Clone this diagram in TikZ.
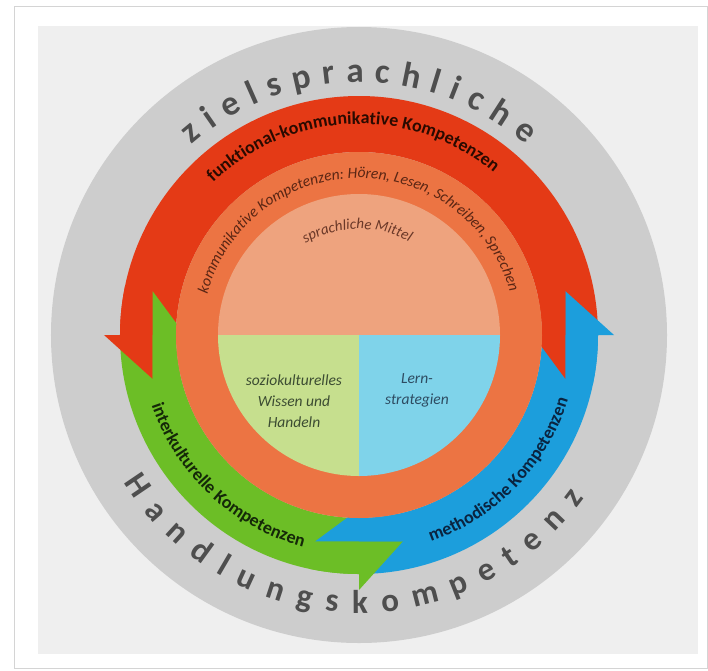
\documentclass[tikz,border=0pt]{standalone}
\usepackage{fontspec}
\setmainfont{Carlito}
\usetikzlibrary{decorations.text}
\definecolor{panelc}{HTML}{EFEFEF}
\definecolor{framec}{HTML}{D4D4D4}
\definecolor{ringc}{HTML}{CDCDCD}
\definecolor{redc}{HTML}{E43A16}
\definecolor{orangec}{HTML}{EC7443}
\definecolor{salmonc}{HTML}{EEA37E}
\definecolor{lgreenc}{HTML}{C6DF8E}
\definecolor{lbluec}{HTML}{7FD3EA}
\definecolor{greenc}{HTML}{6CBE26}
\definecolor{bluec}{HTML}{1C9EDC}
\definecolor{outertxt}{HTML}{4E4E4E}
\definecolor{redtxt}{HTML}{2A0A00}
\definecolor{greentxt}{HTML}{142808}
\definecolor{bluetxt}{HTML}{0A2440}
\definecolor{kommtxt}{HTML}{5A2614}
\definecolor{mitteltxt}{HTML}{6A3828}
\definecolor{soztxt}{HTML}{3C4C32}
\definecolor{lerntxt}{HTML}{2E4C62}
% body of a ring arrow: colour, start angle, end angle
\newcommand\ringbody[3]{\fill[#1] (#2:183) arc[start angle=#2, end angle=#3, radius=183] -- (#3:239) arc[start angle=#3, end angle=#2, radius=239] -- cycle;}
% head owning the outer half: colour, junction angle, own tip angle, other tip angle
\newcommand\headout[4]{\fill[#1] (#4:211) -- (#4:239) arc[start angle=#4, end angle=#2, radius=239] -- (#2:255) -- (#3:211) -- cycle;}
% head owning the inner half: colour, junction angle, own tip angle, other tip angle
\newcommand\headin[4]{\fill[#1] (#4:211) -- (#4:183) arc[start angle=#4, end angle=#2, radius=183] -- (#2:174) -- (#3:211) -- cycle;}
\begin{document}
\begin{tikzpicture}[x=1pt,y=1pt,
  arrowtext/.style={decorate, decoration={text along path, text align=center, text={#1}}},
  fittext/.style={decorate, decoration={text along path, text align=fit to path, text={#1}}},
  innertext/.style={font=\itshape\fontsize{15.5}{21}\selectfont, align=center, inner sep=0pt}]
\useasboundingbox (-359,-335) rectangle (349,335);
\fill[white] (-359,-335) rectangle (349,335);
\draw[framec, line width=1] (-344,-333) rectangle (348,328);
\fill[panelc] (-321,309) rectangle (339,-319);
\fill[ringc] (0,0) circle (308);
% arrow bodies
\ringbody{redc}{0}{180}
\ringbody{greenc}{180}{270}
\ringbody{bluec}{270}{360}
% arrow heads (interlocking at each junction)
\headout{redc}{180}{192}{168}
\headin{greenc}{180}{168}{192}
\headout{greenc}{270}{282}{258}
\headin{bluec}{270}{258}{282}
\headout{bluec}{0}{12}{-12}
\headin{redc}{0}{-12}{12}
% inner rings
\fill[orangec] (0,0) circle (183);
\fill[salmonc] (0,0) -- (0:141) arc[start angle=0, end angle=180, radius=141] -- cycle;
\fill[lgreenc] (0,0) -- (180:141) arc[start angle=180, end angle=270, radius=141] -- cycle;
\fill[lbluec] (0,0) -- (270:141) arc[start angle=270, end angle=360, radius=141] -- cycle;
% outer texts
\path[fittext={|\color{outertxt}\bfseries\fontsize{35}{35}\selectfont|zielsprachliche}] (131.3:253) arc[start angle=131.3, end angle=48.7, radius=253];
\path[fittext={|\color{outertxt}\bfseries\fontsize{33}{33}\selectfont|Handlungskompetenz}] (212:278) arc[start angle=212, end angle=324, radius=278];
% arrow texts
\path[arrowtext={|\color{redtxt}\bfseries\fontsize{18}{18}\selectfont|funktional-kommunikative Kompetenzen}] (150:211) arc[start angle=150, end angle=34, radius=211];
\path[arrowtext={|\color{greentxt}\bfseries\fontsize{18}{18}\selectfont|interkulturelle Kompetenzen}] (190:219) arc[start angle=190, end angle=264, radius=219];
\path[arrowtext={|\color{bluetxt}\bfseries\fontsize{18}{18}\selectfont|methodische Kompetenzen}] (280:219) arc[start angle=280, end angle=352, radius=219];
\path[arrowtext={|\color{kommtxt}\itshape\fontsize{15.5}{15.5}\selectfont|kommunikative Kompetenzen: Hören, Lesen, Schreiben, Sprechen}] (178:157) arc[start angle=178, end angle=2.8, radius=157];
\path[arrowtext={|\color{mitteltxt}\itshape\fontsize{15}{15}\selectfont|sprachliche Mittel}] (150:106) arc[start angle=150, end angle=32, radius=106];
% quadrant labels
\node[innertext, text=soztxt] (soz) at (-65,-66) {soziokulturelles\\Wissen und\\Handeln};
\node[innertext, text=lerntxt] (lern) at (58,-55.5) {Lern-\\strategien};
\end{tikzpicture}
\end{document}
